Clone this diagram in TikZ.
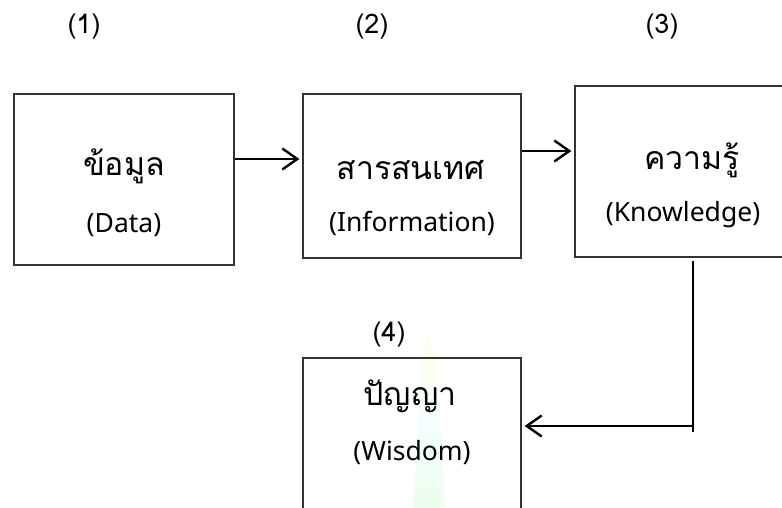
\documentclass[tikz,border=0pt]{standalone}
\usepackage{fontspec}
\setmainfont{Noto Sans}
\newfontfamily\thaifont[Script=Thai]{Loma}
\usetikzlibrary{arrows.meta}
\definecolor{boxline}{HTML}{333333}
\tikzset{
  box/.style={draw=boxline, line width=1.2pt, rectangle, inner sep=0pt},
  thaitxt/.style={font=\thaifont\fontsize{32}{36}\selectfont, inner sep=0pt},
  engtxt/.style={font=\fontsize{26.5}{30}\selectfont, inner sep=0pt},
  numtxt/.style={font=\thaifont\fontsize{27}{30}\selectfont, inner sep=0pt},
  link/.style={line width=2.8pt, black},
  arr/.style={link, -{Straight Barb[length=15pt,width=21pt,line width=2.4pt]}},
}
\begin{document}
\begin{tikzpicture}[x=1pt,y=-1pt]
\useasboundingbox (0,0) rectangle (782,508);

% faint spire-shaped mark behind the last box
\shade[top color=yellow!9, bottom color=green!7, middle color=cyan!5]
  (429,333) -- (437,360) -- (441,430) -- (445,508) -- (413,508) -- (418,430) -- (421,360) -- cycle;

% step numbers
\node[numtxt] (n1) at (84,27) {(1)};
\node[numtxt] (n2) at (372,27) {(2)};
\node[numtxt] (n3) at (662,27) {(3)};
\node[numtxt] (n4) at (389,335) {(4)};

% boxes
\node[box, minimum width=220pt, minimum height=171pt] (b1) at (124,179.5) {};
\node[box, minimum width=218pt, minimum height=164pt] (b2) at (412,176) {};
\node[box, minimum width=222pt, minimum height=171pt] (b3) at (686,171.5) {};
\node[box, minimum width=218pt, minimum height=180pt] (b4) at (412,448) {};

% box texts
\node[thaitxt] (t1) at (124,166) {ข้อมูล};
\node[engtxt]  (e1) at (124,225) {(Data)};
\node[thaitxt] (t2) at (411,170) {สารสนเทศ};
\node[engtxt]  (e2) at (412,223) {(Information)};
\node[thaitxt] (t3) at (692,160) {ความรู้};
\node[engtxt]  (e3) at (683,215) {(Knowledge)};
\node[thaitxt] (t4) at (410,396) {ปัญญา};
\node[engtxt]  (e4) at (412,453) {(Wisdom)};

% connectors
\coordinate (a1) at (b1.east |- 0,159);
\coordinate (a2) at (b2.east |- 0,151);
\coordinate (k1) at (693,261);
\coordinate (k2) at (693,432);
\coordinate (k3) at (693,426);
\draw[arr] (a1) -- ([xshift=-3pt]b2.west |- a1);
\draw[arr] (a2) -- ([xshift=-3pt]b3.west |- a2);
\draw[link] (k1) -- (k2);
\draw[arr] (k3) -- ([xshift=3pt]b4.east |- k3);
\end{tikzpicture}
\end{document}
